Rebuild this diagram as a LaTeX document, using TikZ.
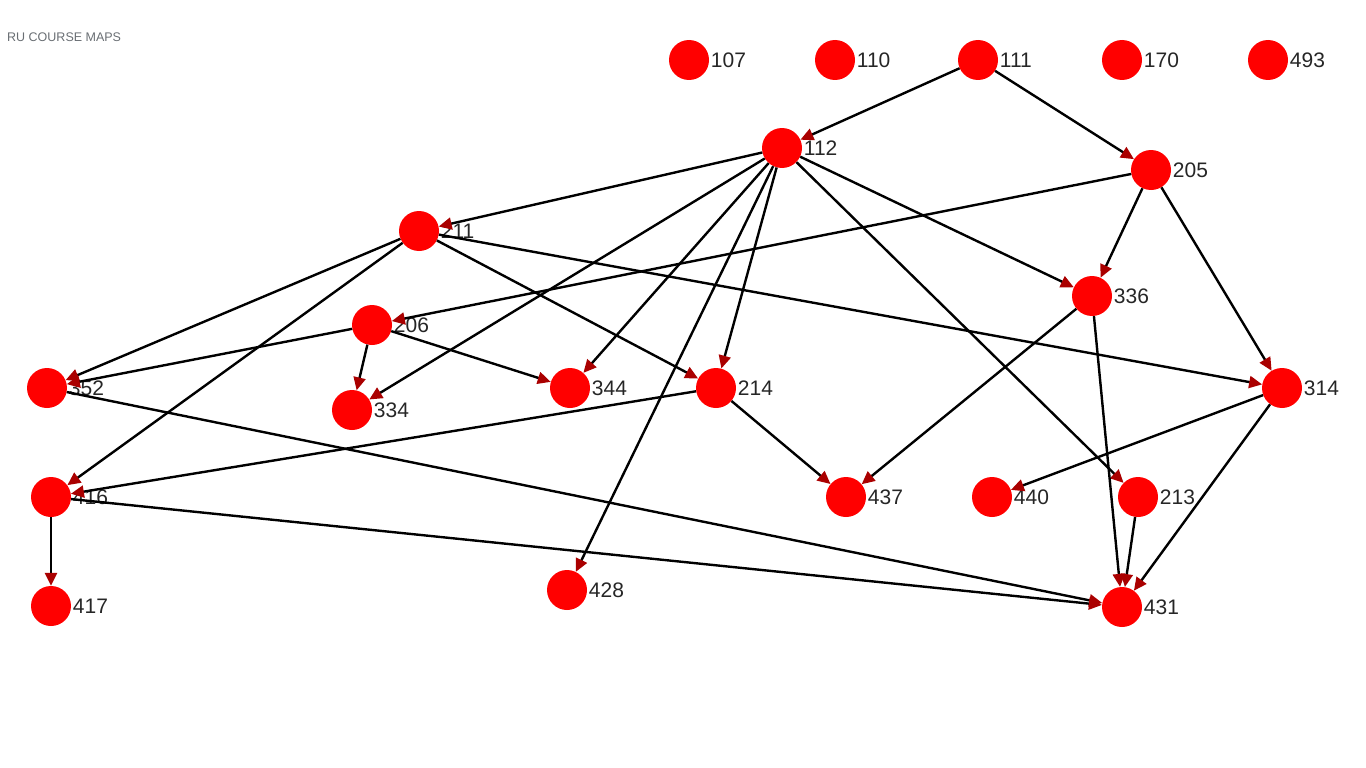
\documentclass[tikz,border=0pt]{standalone}
\usepackage{fontspec}
\setmainfont{Liberation Sans}
\usetikzlibrary{arrows.meta}
\definecolor{nodered}{RGB}{255,0,0}
\definecolor{tipred}{RGB}{170,0,0}
\definecolor{titlegray}{RGB}{105,110,115}
\begin{document}
\begin{tikzpicture}[x=1pt,y=-1pt,
  crs/.style={circle,fill=nodered,minimum size=40pt,inner sep=0pt,
    label={[lbl]east:#1}},
  lbl/.style={inner sep=0pt,label distance=1.5pt,font=\fontsize{21}{21}\selectfont,text=black!85},
  edge/.style={draw=black,line width=2.4pt,
    -{Triangle[length=13pt,width=12pt,color=tipred]}}]
\useasboundingbox (0,0) rectangle (1366,768);
\node[anchor=west,text=titlegray,font=\fontsize{12.5}{12.5}\selectfont,inner sep=0pt] (title) at (7,37) {RU COURSE MAPS};
\node[crs=107] (n107) at (689,60) {};
\node[crs=110] (n110) at (835,60) {};
\node[crs=111] (n111) at (978,60) {};
\node[crs=170] (n170) at (1122,60) {};
\node[crs=493] (n493) at (1268,60) {};
\node[crs=112] (n112) at (782,148) {};
\node[crs=205] (n205) at (1151,170) {};
\node[crs=211] (n211) at (419,231) {};
\node[crs=336] (n336) at (1092,296) {};
\node[crs=206] (n206) at (372,325) {};
\node[crs=352] (n352) at (47,388) {};
\node[crs=334] (n334) at (352,410) {};
\node[crs=344] (n344) at (570,388) {};
\node[crs=214] (n214) at (716,388) {};
\node[crs=314] (n314) at (1282,388) {};
\node[crs=416] (n416) at (51,497) {};
\node[crs=437] (n437) at (846,497) {};
\node[crs=440] (n440) at (992,497) {};
\node[crs=213] (n213) at (1138,497) {};
\node[crs=417] (n417) at (51,606) {};
\node[crs=428] (n428) at (567,590) {};
\node[crs=431] (n431) at (1122,607) {};
\foreach \a/\b in {111/112,111/205,112/211,112/334,112/344,112/214,112/428,112/336,112/213,
  205/206,205/336,205/314,211/352,211/416,211/214,211/314,206/352,206/334,206/344,
  352/431,214/416,214/437,336/437,336/431,314/440,314/431,416/417,416/431,213/431}
  \draw[edge] (n\a) -- (n\b);
\end{tikzpicture}
\end{document}
